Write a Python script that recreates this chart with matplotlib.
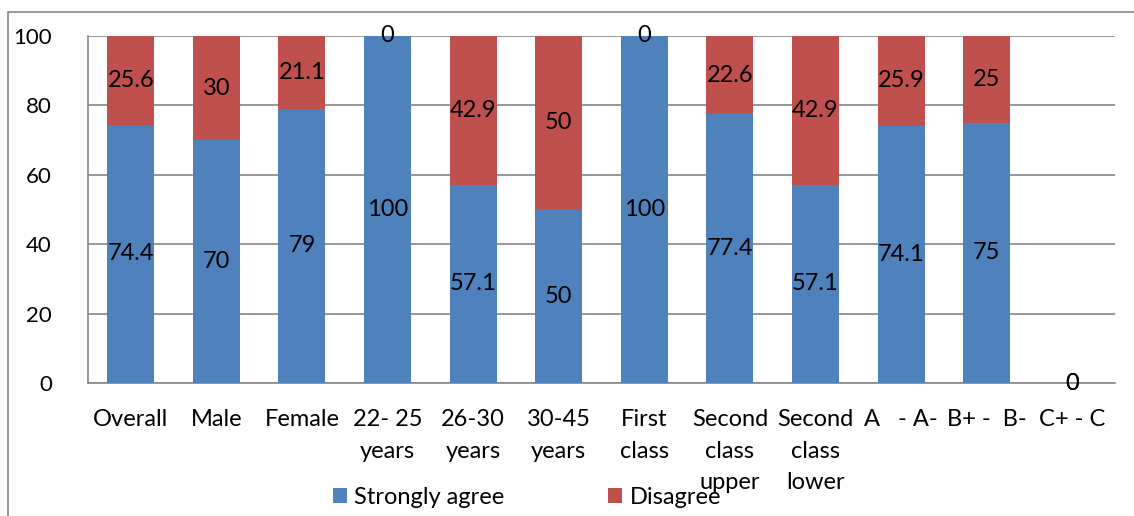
import matplotlib
matplotlib.use("Agg")
import matplotlib.pyplot as plt
from matplotlib.patches import Rectangle
import numpy as np

categories = ["Overall", "Male", "Female", "22- 25\nyears", "26-30\nyears", "30-45\nyears",
              "First\nclass", "Second\nclass\nupper", "Second\nclass\nlower", "A   - A-",
              "B+ -  B-", "C+ - C"]
strongly_agree = [74.4, 70, 79, 100, 57.1, 50, 100, 77.4, 57.1, 74.1, 75, 0]
disagree = [25.6, 30, 21.1, 0, 42.9, 50, 0, 22.6, 42.9, 25.9, 25, 0]
agree_labels = ["74.4", "70", "79", "100", "57.1", "50", "100", "77.4", "57.1", "74.1", "75", "0"]
disagree_labels = ["25.6", "30", "21.1", "0", "42.9", "50", "0", "22.6", "42.9", "25.9", "25", "0"]

BLUE = "#4F81BD"
RED = "#C0504D"
GRID = "#868686"

plt.rcParams["font.family"] = ["Lato", "DejaVu Sans"]

fig = plt.figure(figsize=(11.34, 5.16), dpi=100)
W, H = 1134, 516
ax = fig.add_axes([88 / W, 1 - 383 / H, (1115 - 88) / W, (383 - 36) / H])

x = np.arange(len(categories))
bw = 0.55
ax.bar(x, strongly_agree, bw, color=BLUE, label="Strongly agree", zorder=3)
ax.bar(x, disagree, bw, bottom=strongly_agree, color=RED, label="Disagree", zorder=3)

fs = 17
for i in range(len(categories)):
    a, d = strongly_agree[i], disagree[i]
    ya = a / 2 if a > 0 else 0
    yd = a + d / 2
    ax.text(x[i], ya, agree_labels[i], ha="center", va="center", fontsize=fs, zorder=4)
    ax.text(x[i], yd, disagree_labels[i], ha="center", va="center", fontsize=fs, zorder=4)

ax.set_xlim(-0.5, len(categories) - 0.5)
ax.set_ylim(0, 100)
ax.set_yticks([0, 20, 40, 60, 80, 100])
ax.set_xticks(x)
ax.set_xticklabels(categories, fontsize=fs, linespacing=1.62, va="top")
ax.tick_params(axis="y", labelsize=16, length=0, pad=26)
ax.tick_params(axis="x", length=0, pad=19)
ax.yaxis.grid(True, color=GRID, linewidth=1.2, zorder=0)
for s in ["top", "right"]:
    ax.spines[s].set_visible(False)
for s in ["left", "bottom"]:
    ax.spines[s].set_color(GRID)
    ax.spines[s].set_linewidth(1.2)

leg = fig.legend(loc="center", bbox_to_anchor=(527 / W, 1 - 497 / H), ncol=2, frameon=False,
                 fontsize=fs, handlelength=0.6, handleheight=0.6, handletextpad=0.3,
                 columnspacing=4.4, borderpad=0)

# outer chart frame
fig.patches.append(Rectangle((8 / W, -0.1), 1.2, 1 - 12 / H + 0.1, transform=fig.transFigure,
                             fill=False, edgecolor=GRID, linewidth=1.2))

fig.savefig("out.png", dpi=100)
